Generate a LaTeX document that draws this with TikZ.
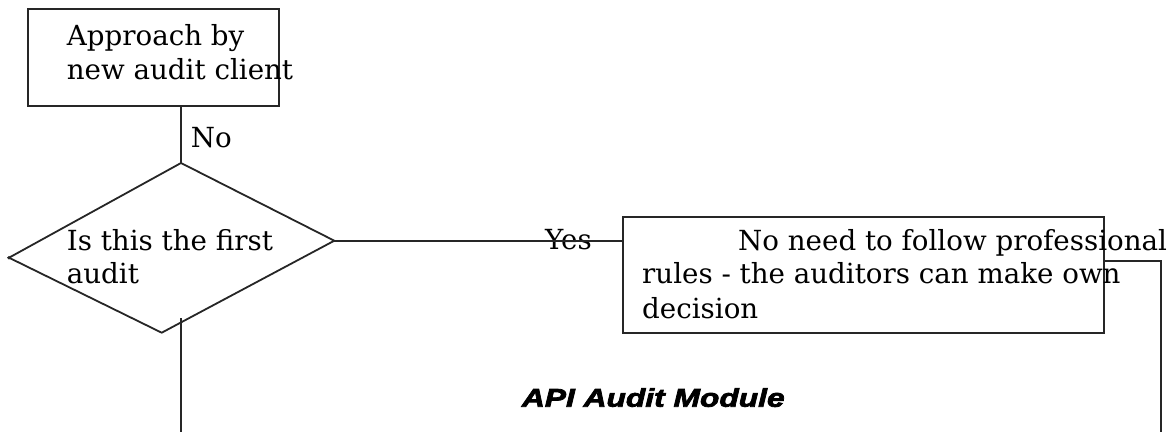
\documentclass[tikz,border=0pt]{standalone}
\usepackage{fontspec}
\setmainfont{DejaVu Serif}
\newfontfamily\titlefont[FakeStretch=1.24,FakeBold=3]{Liberation Sans}
\definecolor{linec}{HTML}{262626}
\tikzset{
  boxshape/.style={draw=linec, line width=1.8pt, inner sep=0pt, anchor=north west},
  conn/.style={draw=linec, line width=1.6pt},
  txt/.style={anchor=base west, inner sep=0pt, font=\fontsize{27.7}{34}\selectfont},
  ttl/.style={anchor=base west, inner sep=0pt, font=\titlefont\bfseries\itshape\fontsize{25.6}{30}\selectfont}
}
\begin{document}
\begin{tikzpicture}[x=1pt,y=-1pt]
\useasboundingbox (0,0) rectangle (1173,432);
% start box
\node[boxshape, minimum width=251pt, minimum height=96.4pt] (start) at (26.7,8.3) {};
\node[txt] (t1a) at (66.7,45) {Approach by};
\node[txt] (t1b) at (66.7,79) {new audit client};
% decision diamond
\coordinate (dT) at (181,163);
\coordinate (dR) at (334.3,240.7);
\coordinate (dB) at (161.7,332.7);
\coordinate (dL) at (9,257.7);
\draw[conn, line width=1.8pt] (dT) -- (dR) -- (dB) -- (dL) -- cycle;
\fill[linec] (dL) circle (1.8pt);
\node[txt] (t2a) at (66.7,250) {Is this the first};
\node[txt] (t2b) at (66.7,283) {audit};
% outcome box
\node[boxshape, minimum width=481pt, minimum height=116pt] (out) at (622,216) {};
\node[txt] (t3a) at (738,250) {No need to follow professional};
\node[txt] (t3b) at (642,283) {rules - the auditors can make own};
\node[txt] (t3c) at (642,318) {decision};
% connectors
\coordinate (startout) at (dT |- start.south);
\draw[conn] (startout) -- (dT);
\node[txt] (no) at (190.7,147) {No};
\coordinate (outin) at (out.west |- dR);
\node[txt] (yes) at (545,249.3) {Yes};
\draw[conn] (dR) -- (outin);
\coordinate (outR) at (1103,261);
\coordinate (rc) at (1161,261);
\coordinate (rb) at (1161,432);
\draw[conn] (outR) -- (rc) -- (rb);
\coordinate (dIn) at (181,318);
\coordinate (db2) at (181,432);
\draw[conn] (dIn) -- (db2);
% title
\node[ttl] (title) at (521.7,406.7) {API Audit Module};
\end{tikzpicture}
\end{document}
